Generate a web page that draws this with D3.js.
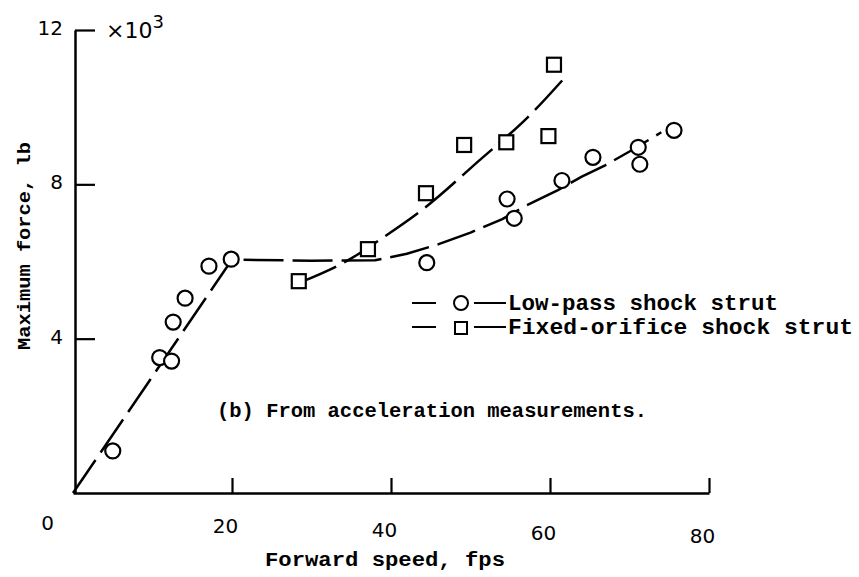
<!DOCTYPE html>
<html>
<head>
<meta charset="utf-8">
<script src="https://cdn.jsdelivr.net/npm/d3@7"></script>
<style>
  body { margin: 0; background: #fff; }
  .tick text { font-family: "DejaVu Sans", sans-serif; font-size: 20px; fill: #000; }
  .mono { font-family: "Liberation Mono", "DejaVu Sans Mono", monospace; fill: #000; }
</style>
</head>
<body>
<svg id="chart" width="859" height="577"></svg>
<script>
// Maximum force vs forward speed (b) From acceleration measurements

// measured points, low-pass shock strut (circles)
const lowPassSpeed = [5.0, 10.9, 12.4, 12.6, 14.1, 17.1, 19.9, 44.5, 54.6, 55.5, 61.5, 65.4, 71.1, 71.3, 75.6];
const lowPassForce = [1.09, 3.51, 3.42, 4.43, 5.05, 5.88, 6.06, 5.97, 7.62, 7.12, 8.1, 8.7, 8.96, 8.52, 9.4];

// measured points, fixed-orifice shock strut (squares)
const fixedSpeed = [28.4, 37.1, 44.4, 49.2, 54.5, 59.8, 60.5];
const fixedForce = [5.49, 6.32, 7.77, 9.02, 9.09, 9.25, 11.1];

// faired curves
const lowPassCurveSpeed = [0, 20, 30, 38, 42, 46, 50, 54, 57, 61, 64, 67, 70, 74];
const lowPassCurveForce = [0, 6.05, 6.02, 6.03, 6.2, 6.45, 6.75, 7.1, 7.45, 7.85, 8.2, 8.5, 8.85, 9.35];
const fixedCurveSpeed = [28.5, 35, 38.5, 44, 51, 57.5, 62];
const fixedCurveForce = [5.45, 6.08, 6.55, 7.35, 8.6, 9.8, 10.8];

const xTicks = [0, 20, 40, 60, 80];
const yTicks = [4, 8, 12];
const legendLabels = ["Low-pass shock strut", "Fixed-orifice shock strut"];

let svg = d3.select("#chart");

let x = d3.scaleLinear().domain([0, 80]).range([73, 709]);
let y = d3.scaleLinear().domain([0, 12]).range([493, 30]);

// x axis, ticks pointing up
let xAxis = svg.append("g")
    .attr("transform", "translate(0," + y(0) + ")")
    .call(d3.axisBottom(x).tickValues(xTicks).tickSize(-15).tickSizeOuter(0).tickPadding(23));
xAxis.select(".domain").attr("stroke-width", 2.5);
xAxis.selectAll(".tick line").attr("stroke-width", 2.2).style("opacity", d => d === 0 ? 0 : 1);
xAxis.selectAll(".tick text")
    .attr("dx", d => d === 0 ? -26 : -7)
    .attr("dy", d => (0.71 + d * 0.008) + "em");

// y axis, ticks pointing right
let yAxis = svg.append("g")
    .attr("transform", "translate(75,0)")
    .call(d3.axisLeft(y).tickValues(yTicks).tickSize(-20).tickSizeOuter(0).tickPadding(12));
yAxis.select(".domain").attr("stroke-width", 2.5);
yAxis.selectAll(".tick line").attr("stroke-width", 2.2);
yAxis.selectAll(".tick text").attr("dy", "0.22em");

svg.append("text")
    .attr("x", 106).attr("y", y(12) + 8)
    .style("font-family", "'DejaVu Sans', sans-serif")
    .style("font-size", "22px")
    .html("\u00d710<tspan dy='-10' font-size='18px'>3</tspan>");

// faired curves
let line = d3.line().x(d => x(d[0])).y(d => y(d[1]));

svg.append("path")
    .datum(lowPassCurveSpeed.map((s, i) => [s, lowPassCurveForce[i]]))
    .attr("d", line.curve(d3.curveLinear))
    .attr("fill", "none").attr("stroke", "#000").attr("stroke-width", 2.5)
    .attr("stroke-dasharray", "40,9");

svg.append("path")
    .datum(fixedCurveSpeed.map((s, i) => [s, fixedCurveForce[i]]))
    .attr("d", line.curve(d3.curveMonotoneX))
    .attr("fill", "none").attr("stroke", "#000").attr("stroke-width", 2.5)
    .attr("stroke-dasharray", "40,9");

// markers
svg.selectAll("circle.low").data(lowPassSpeed)
    .join("circle")
    .attr("class", "low")
    .attr("cx", d => x(d))
    .attr("cy", (d, i) => y(lowPassForce[i]))
    .attr("r", 7.5)
    .attr("fill", "#fff").attr("stroke", "#000").attr("stroke-width", 2.2);

svg.selectAll("rect.fixed").data(fixedSpeed)
    .join("rect")
    .attr("class", "fixed")
    .attr("x", d => x(d) - 7)
    .attr("y", (d, i) => y(fixedForce[i]) - 7)
    .attr("width", 14).attr("height", 14)
    .attr("fill", "#fff").attr("stroke", "#000").attr("stroke-width", 2.2);

// legend
let legend = svg.append("g");
legendLabels.forEach((label, i) => {
    let ly = 303 + i * 24;
    legend.append("line").attr("x1", 412).attr("x2", 436).attr("y1", ly).attr("y2", ly)
        .attr("stroke", "#000").attr("stroke-width", 2);
    legend.append("line").attr("x1", 474).attr("x2", 506).attr("y1", ly).attr("y2", ly)
        .attr("stroke", "#000").attr("stroke-width", 2);
    if (i === 0) {
        legend.append("circle").attr("cx", 461).attr("cy", ly).attr("r", 7)
            .attr("fill", "#fff").attr("stroke", "#000").attr("stroke-width", 2);
    } else {
        legend.append("rect").attr("x", 455).attr("y", ly - 5).attr("width", 12).attr("height", 12)
            .attr("fill", "#fff").attr("stroke", "#000").attr("stroke-width", 2);
    }
    legend.append("text")
        .attr("class", "mono")
        .attr("x", 508).attr("y", ly + 7)
        .attr("textLength", i === 0 ? 270 : 345)
        .attr("lengthAdjust", "spacingAndGlyphs")
        .style("font-size", "22px").style("font-weight", "bold")
        .text(label);
});

// caption
svg.append("text")
    .attr("class", "mono")
    .attr("x", 217).attr("y", 417)
    .attr("textLength", 430)
    .attr("lengthAdjust", "spacingAndGlyphs")
    .style("font-size", "20px").style("font-weight", "bold")
    .text("(b) From acceleration measurements.");

// axis titles
svg.append("text")
    .attr("class", "mono")
    .attr("x", 265).attr("y", 566)
    .attr("textLength", 240)
    .attr("lengthAdjust", "spacingAndGlyphs")
    .style("font-size", "20px").style("font-weight", "bold")
    .text("Forward speed, fps");

svg.append("text")
    .attr("class", "mono")
    .attr("transform", "translate(30,350) rotate(-90)")
    .attr("textLength", 208)
    .attr("lengthAdjust", "spacingAndGlyphs")
    .style("font-size", "19px").style("font-weight", "bold")
    .text("Maximum force, lb");
</script>
</body>
</html>
